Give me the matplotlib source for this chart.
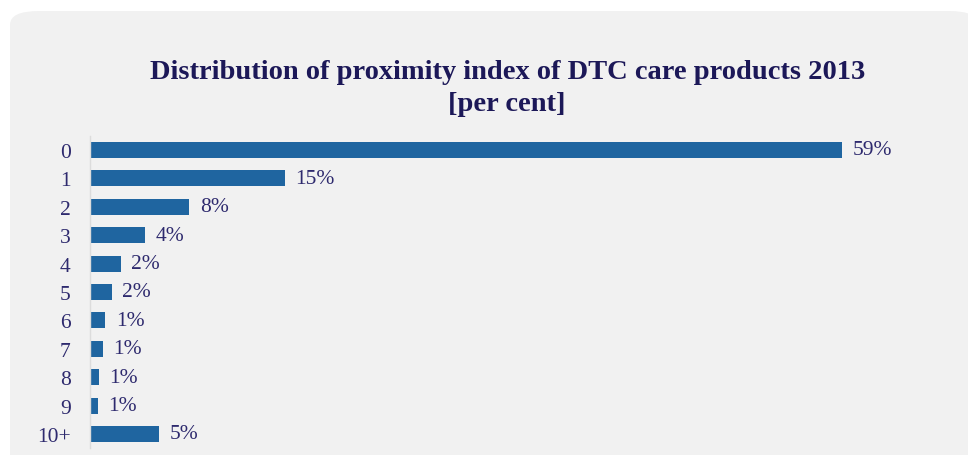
import matplotlib.pyplot as plt
from matplotlib.patches import FancyBboxPatch

# proximity index classes and their share of DTC care products (per cent)
categories = ['0', '1', '2', '3', '4', '5', '6', '7', '8', '9', '10+']
shares = [59.0, 15.3, 7.8, 4.3, 2.4, 1.7, 1.2, 1.0, 0.7, 0.6, 5.4]

title = 'Distribution of proximity index of DTC care products 2013\n[per cent]'
bar_color = '#1f65a0'
text_color = '#2e2a6e'
title_color = '#1c1858'
panel_color = '#f1f1f1'

plt.rcParams['font.family'] = ['Liberation Serif', 'DejaVu Serif']

fig = plt.figure(figsize=(9.68, 4.56), dpi=100)
fig.patch.set_facecolor('white')

# rounded grey panel behind everything
panel = FancyBboxPatch((10 / 968, -0.05), 1.0, 1.05 - 12 / 456,
                       boxstyle='round,pad=0,rounding_size=0.03',
                       transform=fig.transFigure, facecolor=panel_color,
                       edgecolor='none', zorder=-5)
fig.patches.append(panel)

fig.text(0.524, 0.806, title, ha='center', va='center', fontsize=20.5,
         fontweight='bold', color=title_color, linespacing=1.35)

ax = fig.add_axes([90 / 968, 0.015, 820 / 968, 0.685])
ax.set_zorder(2)
ax.set_facecolor('none')

ypos = list(range(len(categories)))
bars = ax.barh(ypos, shares, height=0.56, color=bar_color, zorder=2)

for y, v in zip(ypos, shares):
    ax.annotate('%.0f%%' % v, (v, y), xytext=(7.5, 0), textcoords='offset points',
                ha='left', va='center', fontsize=15.5, color=text_color)

ax.set_yticks(ypos)
ax.set_yticklabels(categories, fontsize=15.5, color=text_color)
ax.set_ylim(len(categories) - 0.5, -0.5)
ax.set_xlim(0, 64.3)
ax.set_xticks([])
ax.tick_params(axis='y', length=0, pad=14)

for side in ['top', 'right', 'bottom']:
    ax.spines[side].set_visible(False)
ax.spines['left'].set_color('#dcdcdc')
ax.spines['left'].set_linewidth(1)

fig.savefig('out.png', dpi=100, facecolor=fig.get_facecolor())
